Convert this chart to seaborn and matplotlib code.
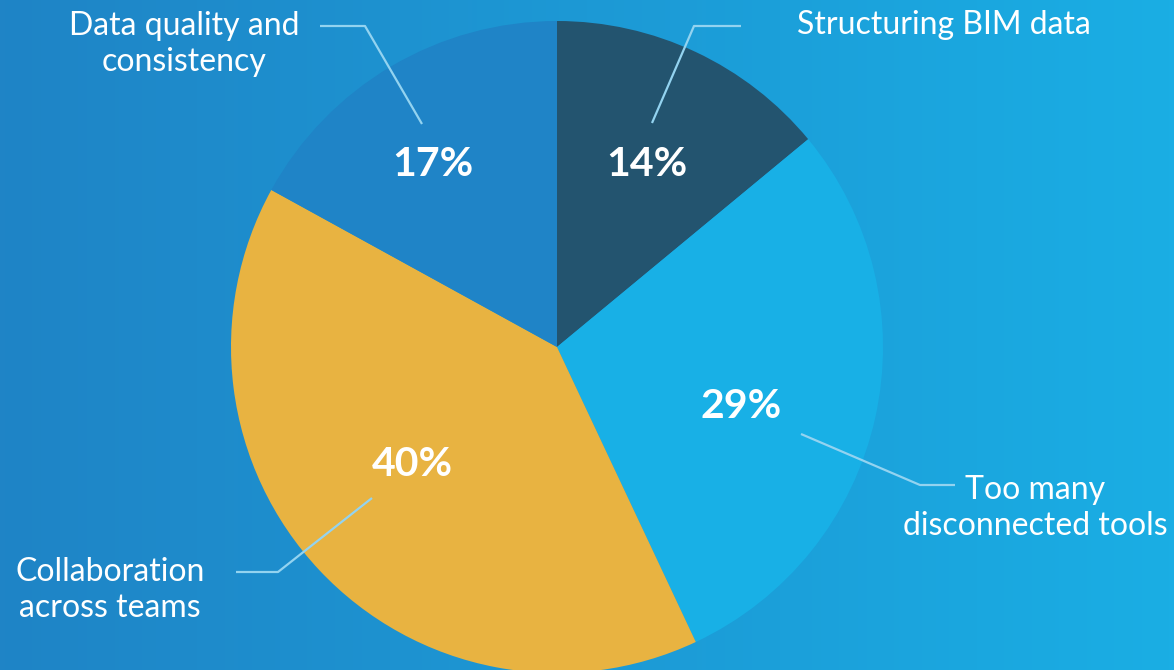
import numpy as np
import matplotlib
matplotlib.use("Agg")
import matplotlib.pyplot as plt
import seaborn as sns
from matplotlib.colors import LinearSegmentedColormap

# ---- data ----
categories = ["Structuring BIM data", "Too many\ndisconnected tools",
              "Collaboration\nacross teams", "Data quality and\nconsistency"]
values = [14, 29, 40, 17]
slice_colors = ["#23546f", "#18b0e6", "#e8b341", "#1f84c7"]

sns.set_theme(style="white")
plt.rcParams['font.family'] = ['Lato', 'DejaVu Sans']

W, H = 1174, 670
fig = plt.figure(figsize=(W / 100, H / 100), dpi=100)
ax = fig.add_axes([0, 0, 1, 1])

# background gradient
cmap = LinearSegmentedColormap.from_list("bg", ["#1f84c6", "#1aaee4"])
grad = np.linspace(0, 1, 256).reshape(1, -1)
ax.imshow(grad, cmap=cmap, extent=[0, W, H, 0], aspect="auto", zorder=0)

cx, cy, R = 557, 347, 326
wedges, _ = ax.pie(values, colors=slice_colors, startangle=-90, counterclock=True,
                   center=(cx, cy), radius=R, frame=True,
                   wedgeprops=dict(linewidth=0, zorder=1))
for w in wedges:
    w.set_zorder(1)

ax.set_xlim(0, W)
ax.set_ylim(H, 0)
ax.set_aspect("equal")
ax.axis("off")

# percentage labels
pct_pos = [(647, 164), (741, 406), (412, 464), (433, 164)]
for v, (px, py) in zip(values, pct_pos):
    ax.text(px, py, f"{v}%", color="white", fontsize=29.5, fontweight="bold",
            ha="center", va="center", zorder=5)

# leader lines and category labels
line_color = "#93d3f0"
leaders = [
    [(652, 123), (694, 26), (741, 26)],
    [(801, 434), (920, 485), (955, 485)],
    [(372, 498), (278, 572), (236, 572)],
    [(422, 124), (365, 26), (320, 26)],
]
label_pos = [(797, 25, "left"), (1035, 508, "center"),
             (110, 590, "center"), (184, 44, "center")]
for cat, pts, (lx, ly, ha) in zip(categories, leaders, label_pos):
    xs, ys = zip(*pts)
    ax.plot(xs, ys, color=line_color, lw=1.6, zorder=4, solid_capstyle="butt")
    ax.text(lx, ly, cat, color="white", fontsize=23, fontweight="normal",
            ha=ha, va="center", multialignment="center", linespacing=1.25, zorder=5)

fig.savefig("out.png", dpi=100)
